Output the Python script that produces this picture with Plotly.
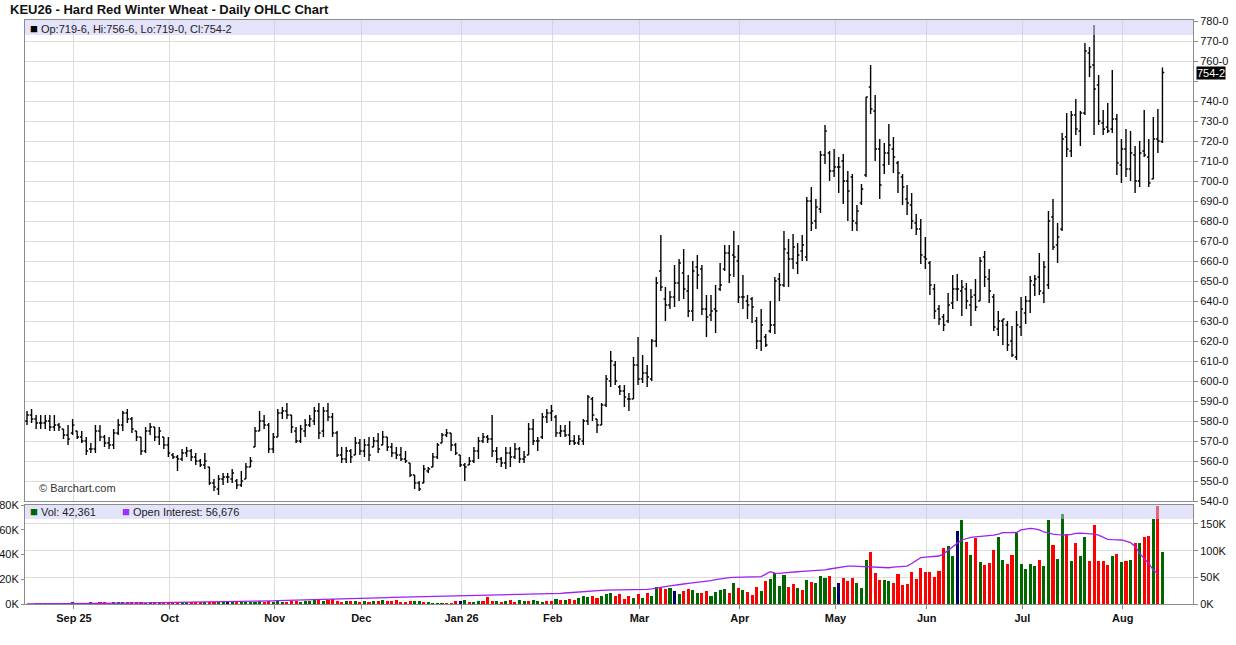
import plotly.graph_objects as go

# ── Data ─────────────────────────────────────────────────────────────────────
TITLE = "KEU26 - Hard Red Winter Wheat - Daily OHLC Chart"

MONTH_LABELS = ["Sep 25", "Oct", "Nov", "Dec", "Jan 26", "Feb",
                "Mar", "Apr", "May", "Jun", "Jul", "Aug"]
MONTH_START = [11, 32, 55, 74, 96, 116, 135, 157, 178, 198, 219, 241]

OPEN = [
    580, 583, 581, 579, 579, 580, 577, 578, 576, 573,
    574, 575, 572, 570, 566, 566, 575, 572, 569, 568,
    574, 578, 584, 581, 575, 572, 565, 575, 577, 572,
    572, 568, 563, 562, 561, 564, 565, 562, 560, 558,
    557, 549, 546, 551, 552, 551, 550, 548, 551, 557,
    567, 575, 580, 578, 566, 572, 584, 585, 583, 575,
    570, 575, 578, 580, 585, 575, 585, 582, 574, 563,
    561, 565, 563, 569, 565, 568, 567, 570, 568, 572,
    567, 564, 563, 561, 559, 553, 549, 549, 555, 557,
    562, 569, 573, 574, 568, 563, 558, 558, 560, 565,
    570, 572, 571, 565, 561, 559, 564, 562, 566, 561,
    563, 576, 570, 572, 582, 584, 582, 574, 575, 573,
    570, 569, 570, 580, 591, 581, 578, 588, 600, 608,
    597, 595, 591, 591, 608, 601, 604, 601, 620, 655,
    641, 638, 642, 649, 654, 645, 635, 657, 656, 636,
    633, 636, 646, 656, 664, 663, 660, 642, 640, 641,
    630, 620, 622, 625, 628, 651, 648, 664, 661, 659,
    665, 662, 690, 680, 686, 713, 714, 705, 707, 710,
    700, 702, 679, 689, 703, 747, 735, 716, 708, 714,
    716, 709, 702, 691, 688, 679, 676, 662, 659, 646,
    636, 632, 630, 639, 646, 645, 646, 638, 643, 640,
    662, 651, 642, 626, 630, 628, 620, 612, 627, 634,
    640, 648, 652, 644, 648, 682, 668, 676, 722, 715,
    733, 725, 734, 764, 758, 748, 729, 727, 726, 731,
    708, 716, 706, 713, 700, 715, 712, 701, 721, 719.75,
]
HIGH = [
    585, 586, 583, 583, 583, 583, 583, 579, 576, 578,
    581, 575, 575, 572, 569, 578, 578, 573, 572, 576,
    581, 585, 586, 582, 575, 572, 577, 579, 577, 577,
    572, 572, 564, 563, 566, 567, 566, 564, 561, 564,
    557, 551, 553, 554, 554, 556, 551, 555, 559, 562,
    577, 585, 583, 579, 574, 586, 587, 589, 583, 577,
    578, 581, 583, 587, 589, 587, 589, 584, 575, 567,
    567, 566, 572, 571, 571, 572, 572, 574, 575, 572,
    569, 567, 567, 565, 559, 553, 550, 558, 557, 564,
    569, 574, 576, 574, 569, 563, 559, 562, 567, 572,
    574, 573, 583, 567, 562, 567, 567, 569, 567, 565,
    579, 581, 572, 584, 586, 588, 583, 578, 578, 580,
    573, 573, 581, 593, 592, 581, 589, 603, 615, 610,
    598, 598, 594, 612, 622, 613, 608, 621, 652, 673,
    647, 645, 658, 661, 666, 653, 660, 663, 658, 643,
    643, 648, 659, 668, 668, 675, 668, 653, 643, 642,
    632, 636, 623.5, 640, 652, 654, 675, 671, 673.5, 669,
    673, 692, 697, 691, 715, 728, 715, 716, 712, 713.5,
    705, 703.5, 688, 698.5, 742, 758, 743, 721, 719, 728.5,
    722, 710, 703.5, 698, 694, 683.5, 681, 672, 660, 648.5,
    638, 633.5, 644, 653, 653.5, 650.5, 649, 646, 651, 662,
    665, 656, 643.5, 635, 631, 630, 627.5, 635, 642, 642.5,
    652.5, 653, 664, 660, 685, 691, 679, 724, 734, 735,
    741, 735, 769, 767, 778, 753, 735.5, 739, 755.5, 733.5,
    721, 726, 725, 717.5, 720, 735.5, 721, 732, 736, 756.75,
]
LOW = [
    578, 579, 576, 576, 576, 575, 575, 575, 571, 568,
    573, 571, 569, 563, 564, 564, 570, 567, 566, 566,
    573, 575, 579, 574, 570, 563, 564, 573, 570, 568,
    566, 562, 561, 555, 560, 562, 560, 558, 557, 556,
    548, 545, 543, 548, 549, 549, 546, 547, 551, 557,
    567, 575, 576, 564, 564, 572, 581, 581, 574, 569,
    569, 572, 577, 578, 571, 572, 580, 572, 562, 559,
    559, 559, 563, 563, 562, 560, 567, 564, 568, 565,
    562, 561, 560, 559, 552, 546, 545, 549, 554, 557,
    561, 569, 572, 565, 563, 557, 550, 558, 559, 561,
    569, 569, 562, 559, 557, 556, 557, 561, 559, 559,
    563, 568, 565, 571, 579, 580, 572, 572, 572, 568,
    568, 568, 568, 578, 580, 574, 578, 587, 597, 598,
    593, 587, 585, 591, 598, 599, 597, 600, 617, 645,
    630, 636, 637, 640, 641, 632, 630, 646, 633, 622,
    630, 624, 645, 655, 649, 652, 639, 636, 631, 629,
    616, 615, 617, 624, 623.5, 640, 647, 647, 656, 653.5,
    660, 660, 675, 676, 684, 708.5, 700, 702, 694, 688.5,
    680, 675, 675, 688, 702, 733.5, 710, 691, 703.5, 708,
    704, 694, 688, 683, 676, 673, 658.5, 656, 643, 631,
    628, 625, 629, 636, 640, 632.5, 636, 627.5, 635, 640,
    647, 639, 625, 622.5, 618, 615, 612, 610.5, 622.5, 628.5,
    634, 642.5, 643, 639, 646, 665.5, 659, 675, 712, 712,
    723, 717.5, 733, 752, 723, 728, 723, 724, 724, 703,
    699, 702, 700, 694, 697, 712, 697, 701, 714, 719,
]
CLOSE = [
    583, 581, 579, 579, 580, 577, 578, 577, 573, 571,
    578, 572, 570, 565, 566, 575, 572, 569, 568, 574,
    578, 584, 581, 576, 572, 565, 575, 577, 572, 575,
    568, 564, 562, 561, 564, 565, 562, 560, 558, 560,
    549, 547, 551, 552, 552, 554, 548, 550, 557, 560,
    575, 580, 578, 566, 572, 584, 585, 583, 577, 570,
    576, 578, 581, 585, 574, 585, 582, 574, 563, 561,
    565, 562, 569, 565, 568, 563, 570, 566, 572, 567,
    564, 563, 561, 560, 553, 549, 546, 556, 556, 562,
    568, 573, 574, 568, 564, 558, 557, 560, 565, 570,
    572, 571, 565, 561, 559, 564, 562, 566, 561, 562,
    576, 570, 570, 582, 584, 585, 574, 575, 573, 570,
    569, 571, 580, 592, 583, 578, 588, 601, 610, 600,
    595, 592, 591, 608, 601, 604, 602, 620, 649, 647,
    638, 642, 649, 659, 646, 635, 655, 653, 636, 632,
    635, 635, 648, 664, 653, 662, 642, 642, 638, 637,
    620, 628, 618, 628, 650, 648, 666, 661, 667, 663,
    668, 690, 679, 687, 713, 725, 705, 707, 707, 700,
    695, 680, 685, 696, 742, 736, 716, 698, 714, 718,
    712, 704, 697, 689, 680, 676, 663, 661, 648, 635,
    631, 628, 638, 646, 646, 647, 640, 642, 637, 660,
    652, 645, 627, 630, 631, 618, 613, 628, 636, 640,
    650, 651, 645, 657, 680, 667, 672, 721, 716, 733,
    726, 734, 765, 757, 746, 730, 726, 725, 731, 709,
    716, 706, 714, 700, 714, 713, 699, 721, 720, 754.25,
]

# volume, thousands of contracts
VOL = [
    0.0, 0.0, 0.1, 0.1, 0.1, 0.1, 0.2, 0.2, 0.8, 0.6,
    0.9, 0.7, 0.8, 0.6, 0.9, 0.8, 0.9, 1.0, 0.8, 1.1,
    0.9, 1.0, 1.2, 0.9, 1.0, 1.1, 0.8, 1.2, 1.0, 0.9,
    1.1, 1.0, 1.2, 1.4, 1.1, 1.3, 1.5, 1.2, 1.4, 1.3,
    1.6, 1.5, 1.2, 1.4, 1.7, 1.5, 1.8, 1.6, 1.9, 2.0,
    1.7, 2.2, 1.9, 2.1, 1.8, 2.3, 2.0, 1.9, 2.2, 2.6,
    2.0, 2.4, 2.2, 3.0, 3.8, 2.5, 3.0, 3.8, 2.4, 2.0,
    2.3, 2.1, 2.6, 1.9, 2.2, 2.0, 2.4, 2.6, 3.0, 2.5,
    2.8, 3.2, 1.1, 1.9, 2.4, 2.4, 2.4, 1.6, 1.6, 0.8,
    0.8, 0.8, 0.8, 0.8, 2.4, 2.4, 3.2, 1.6, 1.6, 2.4,
    2.4, 5.7, 2.4, 2.4, 1.6, 2.4, 3.2, 1.6, 3.2, 2.4,
    2.4, 3.2, 2.4, 1.6, 2.4, 2.4, 4.0, 3.2, 3.2, 4.0,
    3.2, 4.8, 6.5, 5.7, 6.5, 4.8, 6.5, 8.1, 8.9, 6.5,
    8.1, 4.0, 6.5, 4.8, 8.1, 4.8, 8.9, 6.5, 13.7, 13.7,
    12.1, 12.9, 10.5, 8.1, 10.5, 12.1, 11.3, 8.9, 8.9, 10.5,
    6.5, 9.7, 11.3, 12.1, 8.9, 17.0, 12.9, 11.3, 9.7, 7.3,
    13.7, 10.5, 18.6, 20.2, 25.0, 14.5, 23.4, 13.7, 16.2, 12.9,
    11.3, 19.4, 17.8, 17.0, 22.6, 21.3, 22.6, 14.0, 16.7, 21.3,
    18.9, 21.3, 17.2, 13.2, 35.6, 42.0, 25.3, 19.4, 19.4, 18.9,
    17.2, 24.2, 15.4, 16.2, 25.9, 20.5, 29.1, 25.9, 25.9, 21.5,
    26.7, 45.0, 46.6, 38.8, 59.0, 67.9, 50.0, 39.6, 53.0, 34.0,
    31.5, 33.0, 43.6, 54.0, 35.6, 32.3, 39.6, 57.4, 32.3, 28.3,
    32.3, 30.7, 35.6, 30.7, 67.9, 47.7, 36.4, 72.7, 56.6, 34.7,
    49.3, 38.8, 54.0, 34.7, 63.8, 34.7, 34.7, 31.5, 38.8, 40.4,
    34.0, 34.7, 35.6, 49.3, 49.3, 54.0, 55.0, 68.7, 79.0, 42.361,
]
# g = up day, r = down day, n = unchanged (10 bars per chunk)
VOL_DIR = (
    "grrrgrgrrr" "grrrggrrrg" "ggrrrrggrg" "rrrrggrrrg" "rrggngrggg"
    "ggrrgggrrr" "ggggrgrrrr" "grgrgrgrgr" "rrrrrggrgg" "ggrrrngrgg"
    "rrrgrgrrgg" "rgggrrgrgr" "rgggrrgggr" "rrrgrgrggr" "rgngrrggrr"
    "ggggrgrgrr" "rgrggggrrg" "rgrgggrgnr" "rrgggrrrgg" "rrrrrrrrrr"
    "rrggngrgrg" "rrrggrrggg" "ggrggrggrg" "rggrrrrrgr" "grgrgrrgrg"
)
# open interest, thousands of contracts
OI = [
    0.2, 0.2, 0.3, 0.3, 0.4, 0.4, 0.5, 0.5, 0.6, 0.7,
    0.8, 0.9, 1.0, 1.0, 1.1, 1.2, 1.3, 1.3, 1.4, 1.5,
    1.6, 1.6, 1.7, 1.8, 1.9, 2.0, 2.0, 2.1, 2.2, 2.3,
    2.4, 2.5, 2.6, 2.7, 2.9, 3.0, 3.1, 3.2, 3.3, 3.5,
    3.6, 3.7, 3.9, 4.0, 4.1, 4.3, 4.4, 4.6, 4.8, 5.0,
    5.2, 5.4, 5.6, 5.8, 6.0, 6.3, 6.6, 6.9, 7.2, 7.5,
    7.8, 8.1, 8.4, 8.6, 8.9, 9.1, 9.4, 9.6, 9.9, 10.1,
    10.3, 10.5, 10.7, 10.9, 11.1, 11.3, 11.5, 11.7, 11.9, 12.1,
    12.3, 12.5, 12.7, 12.9, 13.1, 13.3, 13.5, 13.6, 13.8, 14.0,
    14.2, 14.4, 14.6, 14.8, 15.0, 15.1, 15.3, 15.5, 15.6, 15.8,
    16.0, 16.2, 16.4, 16.6, 16.8, 17.0, 17.2, 17.4, 17.6, 17.8,
    17.9, 18.0, 18.1, 18.2, 18.3, 18.5, 19.0, 19.8, 20.6, 21.4,
    22.0, 22.6, 23.2, 23.8, 24.5, 25.0, 25.5, 26.0, 26.2, 26.3,
    26.2, 26.3, 26.4, 26.2, 26.5, 26.6, 27.5, 28.5, 29.5, 31.0,
    32.5, 34.0, 35.6, 36.5, 37.5, 38.5, 39.5, 40.0, 41.0, 42.5,
    44.0, 45.5, 47.0, 48.5, 49.5, 50.0, 50.3, 50.6, 50.8, 51.0,
    51.2, 51.3, 56.0, 60.6, 58.0, 57.5, 58.5, 59.5, 60.0, 60.5,
    61.0, 61.5, 62.0, 62.5, 63.0, 64.0, 65.6, 67.0, 69.0, 70.5,
    71.0, 71.0, 70.5, 70.0, 70.0, 70.0, 69.5, 69.0, 68.5, 68.0,
    69.0, 70.0, 71.0, 71.0, 76.0, 82.0, 86.8, 88.0, 89.0, 89.5,
    90.0, 94.0, 101.0, 108.0, 114.0, 120.0, 122.5, 125.0, 126.0, 126.5,
    127.0, 127.5, 129.0, 131.0, 133.7, 133.7, 133.5, 134.0, 138.8, 140.5,
    141.9, 141.0, 138.8, 135.0, 132.5, 131.0, 130.0, 129.5, 129.4, 130.5,
    132.5, 133.0, 132.5, 132.0, 131.0, 129.0, 125.0, 121.0, 120.5, 120.0,
    120.0, 118.0, 115.0, 108.0, 95.0, 85.0, 76.0, 63.7, 56.7, None,
]

LAST_OP, LAST_HI, LAST_LO, LAST_CL = "719-6", "756-6", "719-0", "754-2"
LAST_VOL = "42,361"
LAST_OI = "56,676"

PRICE_TICKS = list(range(540, 790, 10))
VOL_TICKS = [0, 20, 40, 60, 80]
OI_TICKS = [0, 50, 100, 150]

# ── Styling ──────────────────────────────────────────────────────────────────
FONT = "Liberation Sans, Arial, sans-serif"
GRID = "#dcdcdc"
FRAME = "#8c8c8c"
BAND = "rgba(200,200,245,0.5)"
DIR_COLOR = {"g": "#006600", "r": "#ff0000", "n": "#000066"}
OI_COLOR = "#a020f0"

x = list(range(len(CLOSE)))
grid_x = [m - 0.7 for m in MONTH_START]
vol_colors = [DIR_COLOR[d] for d in VOL_DIR]

fig = go.Figure()
fig.add_trace(go.Ohlc(
    x=x, open=OPEN, high=HIGH, low=LOW, close=CLOSE,
    xaxis="x", yaxis="y", tickwidth=0.4,
    increasing=dict(line=dict(color="black", width=1.4)),
    decreasing=dict(line=dict(color="black", width=1.4)),
    hoverinfo="skip",
))
fig.add_trace(go.Bar(
    x=x, y=VOL, xaxis="x2", yaxis="y2", width=0.68,
    marker=dict(color=vol_colors, line=dict(width=0)),
    hoverinfo="skip",
))
fig.add_trace(go.Scatter(
    x=x, y=OI, xaxis="x2", yaxis="y3", mode="lines",
    line=dict(color=OI_COLOR, width=1.3),
    hoverinfo="skip",
))

axis_common = dict(showline=True, mirror=True, linecolor=FRAME, linewidth=1,
                   gridcolor=GRID, zeroline=False, automargin=False)


def square(color):
    return f'<span style="color:{color};font-size:13px">■</span>'


fig.update_layout(
    width=1236, height=645,
    margin=dict(l=25, r=43, t=20, b=41, autoexpand=False),
    paper_bgcolor="white", plot_bgcolor="white",
    font=dict(family=FONT, size=11, color="#111"),
    showlegend=False,
    bargap=0,
    xaxis=dict(
        domain=[0, 1], anchor="y", range=[-0.44, 255.7],
        tickvals=grid_x, showticklabels=False, showgrid=True,
        rangeslider=dict(visible=False), **axis_common,
    ),
    xaxis2=dict(
        domain=[0, 1], anchor="y2", matches="x",
        tickvals=grid_x, ticktext=MONTH_LABELS, showgrid=True,
        ticks="outside", ticklen=4, tickcolor=FRAME,
        tickfont=dict(size=11, weight="bold", color="#111"), **axis_common,
    ),
    yaxis=dict(
        domain=[103 / 584, 1], anchor="x", side="right", range=[540, 780.5],
        tickvals=PRICE_TICKS,
        ticktext=["" if p == 750 else f"{p}-0" for p in PRICE_TICKS],
        ticks="outside", ticklen=4, tickcolor=FRAME, showgrid=True,
        tickfont=dict(size=11), **axis_common,
    ),
    yaxis2=dict(
        domain=[0, 99 / 584], anchor="x2", side="left", range=[0, 80],
        tickvals=VOL_TICKS, ticktext=[f"{v}K" for v in VOL_TICKS],
        ticks="outside", ticklen=3, tickcolor=FRAME, showgrid=False,
        tickfont=dict(size=11), **axis_common,
    ),
    yaxis3=dict(
        overlaying="y2", anchor="x2", side="right", range=[0, 185.6],
        tickvals=OI_TICKS, ticktext=[f"{v}K" for v in OI_TICKS],
        ticks="outside", ticklen=4, tickcolor=FRAME, showgrid=True,
        gridcolor=GRID, zeroline=False, showline=False, automargin=False,
        tickfont=dict(size=11),
    ),
    shapes=[
        dict(type="rect", xref="paper", yref="y domain", x0=0, x1=1,
             y0=1 - 15 / 481, y1=1, fillcolor=BAND, line=dict(width=0),
             layer="above"),
        dict(type="rect", xref="paper", yref="y2 domain", x0=0, x1=1,
             y0=1 - 14 / 99, y1=1, fillcolor=BAND, line=dict(width=0),
             layer="above"),
    ],
    annotations=[
        dict(text=f"<b>{TITLE}</b>", xref="paper", yref="paper",
             x=-17 / 1168, y=1 + 11 / 584, xanchor="left", yanchor="middle",
             showarrow=False, font=dict(size=13, color="#111")),
        dict(text=(f'{square("black")} Op:{LAST_OP}, '
                   f'Hi:{LAST_HI}, Lo:{LAST_LO}, Cl:{LAST_CL}'),
             xref="paper", yref="y domain", x=3 / 1168, y=1 - 8 / 481,
             xanchor="left", yanchor="middle", showarrow=False,
             font=dict(size=11, color="#222")),
        dict(text=f'{square("#006600")} Vol: {LAST_VOL}',
             xref="paper", yref="y2 domain", x=3 / 1168, y=1 - 7 / 99,
             xanchor="left", yanchor="middle", showarrow=False,
             font=dict(size=11, color="#222")),
        dict(text=f'{square("#9b30ff")} Open Interest: {LAST_OI}',
             xref="paper", yref="y2 domain", x=95 / 1168, y=1 - 7 / 99,
             xanchor="left", yanchor="middle", showarrow=False,
             font=dict(size=11, color="#222")),
        dict(text="© Barchart.com", xref="paper", yref="y",
             x=12 / 1168, y=546.5, xanchor="left", yanchor="middle",
             showarrow=False, font=dict(size=11, color="#333")),
        dict(text=LAST_CL, xref="paper", yref="y", x=1, y=754.25,
             xanchor="left", yanchor="middle", xshift=3, showarrow=False,
             bgcolor="black", borderpad=0, font=dict(size=11, color="white")),
    ],
)

# the default page has an 8px body margin; drop it so the chart sits at 0,0
fig.write_html(
    "out.html",
    config={"displayModeBar": False},
    post_script="document.body.style.margin = '0';",
)
